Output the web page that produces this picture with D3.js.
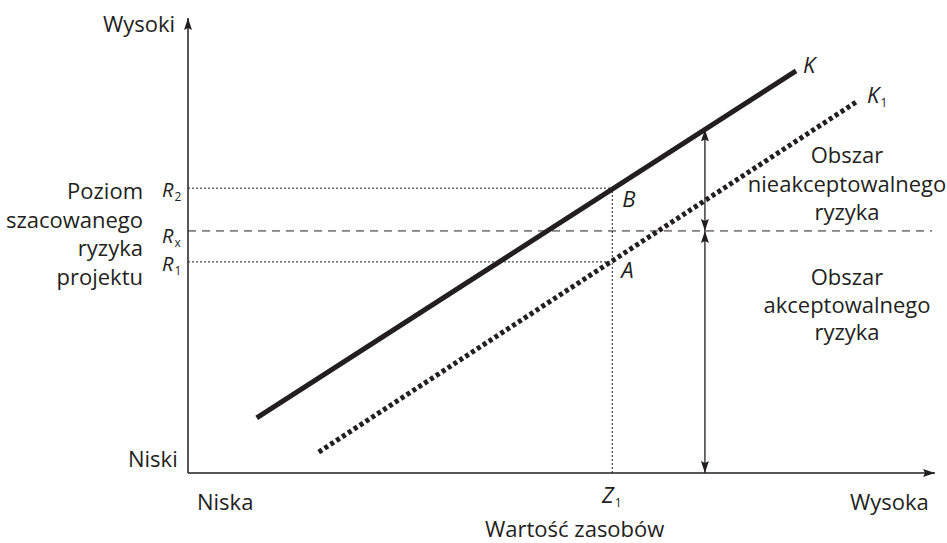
<!DOCTYPE html>
<html>
<head>
<meta charset="utf-8">
<script src="https://cdn.jsdelivr.net/npm/d3@7"></script>
<style>
  body { margin: 0; background: #fff; }
  svg text { font-family: "Open Sans", sans-serif; fill: #231f20; }
</style>
</head>
<body>
<svg id="chart"></svg>
<script>
// values in abstract units (0..100 on both axes)
const lineK = [{ x: 9.2, y: 12.1 }, { x: 81.4, y: 88.4 }];
const lineK1 = [{ x: 17.5, y: 4.6 }, { x: 89.7, y: 81.8 }];
const riskLevels = [
  { name: "R", sub: "2", value: 62.6, kind: "dotted" },
  { name: "R", sub: "x", value: 53.2, kind: "dashed" },
  { name: "R", sub: "1", value: 46.4, kind: "dotted" }
];
const z1 = 56.8;
const arrowX = 69.2;
const rxEnd = 99.6;
const yAxisLabel = ["Poziom", "szacowanego", "ryzyka", "projektu"];
const upperArea = ["Obszar", "nieakceptowalnego", "ryzyka"];
const lowerArea = ["Obszar", "akceptowalnego", "ryzyka"];

const width = 947, height = 543;
const ink = "#231f20";

const svg = d3.select("#chart")
  .attr("width", width)
  .attr("height", height);

const x = d3.scaleLinear().domain([0, 100]).range([188, 935]);
const y = d3.scaleLinear().domain([0, 100]).range([473, 18]);

// arrow head marker
const defs = svg.append("defs");
defs.append("marker")
  .attr("id", "head")
  .attr("markerUnits", "userSpaceOnUse")
  .attr("viewBox", "0 -5 12 10")
  .attr("refX", 12).attr("refY", 0)
  .attr("markerWidth", 12).attr("markerHeight", 10)
  .attr("orient", "auto-start-reverse")
  .append("path")
  .attr("d", "M0,-4L12,0L0,4L2,0Z")
  .attr("fill", ink);

// axes
svg.append("line")
  .attr("x1", x(0)).attr("y1", y(0))
  .attr("x2", x(0)).attr("y2", y(100))
  .attr("stroke", ink).attr("stroke-width", 1.5)
  .attr("marker-end", "url(#head)");
svg.append("line")
  .attr("x1", x(0)).attr("y1", y(0))
  .attr("x2", x(100)).attr("y2", y(0))
  .attr("stroke", ink).attr("stroke-width", 1.5)
  .attr("marker-end", "url(#head)");

// risk level guides
svg.selectAll(".level")
  .data(riskLevels)
  .enter()
  .append("line")
  .attr("class", "level")
  .attr("x1", x(0))
  .attr("x2", d => d.kind === "dashed" ? x(rxEnd) : x(z1))
  .attr("y1", d => y(d.value))
  .attr("y2", d => y(d.value))
  .attr("stroke", ink)
  .attr("stroke-width", 1)
  .attr("stroke-dasharray", d => d.kind === "dashed" ? "8,6" : "2,2");

// Z1 vertical guide
svg.append("line")
  .attr("x1", x(z1)).attr("x2", x(z1))
  .attr("y1", y(0)).attr("y2", y(riskLevels[0].value))
  .attr("stroke", ink).attr("stroke-width", 1)
  .attr("stroke-dasharray", "2,2");

// K lines
const line = d3.line().x(d => x(d.x)).y(d => y(d.y));
svg.append("path")
  .attr("d", line(lineK))
  .attr("fill", "none")
  .attr("stroke", ink)
  .attr("stroke-width", 5);
svg.append("path")
  .attr("d", line(lineK1))
  .attr("fill", "none")
  .attr("stroke", ink)
  .attr("stroke-width", 5)
  .attr("stroke-dasharray", "4,3");

// double arrows
const kAt = v => lineK[0].y + (v - lineK[0].x) * (lineK[1].y - lineK[0].y) / (lineK[1].x - lineK[0].x);
const rx = riskLevels[1].value;
[[kAt(arrowX), rx], [rx, 0]].forEach(([a, b]) => {
  svg.append("line")
    .attr("x1", x(arrowX)).attr("x2", x(arrowX))
    .attr("y1", y(a)).attr("y2", y(b))
    .attr("stroke", ink).attr("stroke-width", 1.3)
    .attr("marker-start", "url(#head)")
    .attr("marker-end", "url(#head)");
});

// texts
const fs = 22;
function label(tx, ty, str, anchor) {
  return svg.append("text")
    .attr("x", tx).attr("y", ty)
    .attr("font-size", fs)
    .attr("text-anchor", anchor || "start")
    .text(str);
}
function italicSub(tx, ty, main, sub, size) {
  const t = svg.append("text")
    .attr("x", tx).attr("y", ty)
    .attr("font-size", size || fs)
    .attr("font-style", "italic");
  t.append("tspan").text(main);
  if (sub) {
    t.append("tspan")
      .attr("font-size", 12)
      .attr("font-style", "normal")
      .attr("dy", 4)
      .attr("dx", 1)
      .text(sub);
  }
  return t;
}

label(103, 32, "Wysoki");
label(128, 467, "Niski");
label(197, 510, "Niska");
label(850, 510, "Wysoka");
label(485, 537, "Wartość zasobów");

yAxisLabel.forEach((s, i) => label(143, 199 + i * 28.7, s, "end"));
upperArea.forEach((s, i) => label(847, 163 + i * 28.5, s, "middle"));
lowerArea.forEach((s, i) => label(847, 285 + i * 27.5, s, "middle"));

const rOffsets = [9, 12, 9];
riskLevels.forEach((d, i) => italicSub(162, y(d.value) + rOffsets[i], d.name, d.sub, 20));
italicSub(602, 503, "Z", "1");

italicSub(x(lineK[1].x) + 7, y(lineK[1].y) + 2, "K");
italicSub(x(lineK1[1].x) + 9, y(lineK1[1].y) + 2, "K", "1");
italicSub(x(z1) + 10, y(riskLevels[0].value) + 19, "B");
italicSub(x(z1) + 9, y(riskLevels[2].value) + 16, "A");
</script>
</body>
</html>
